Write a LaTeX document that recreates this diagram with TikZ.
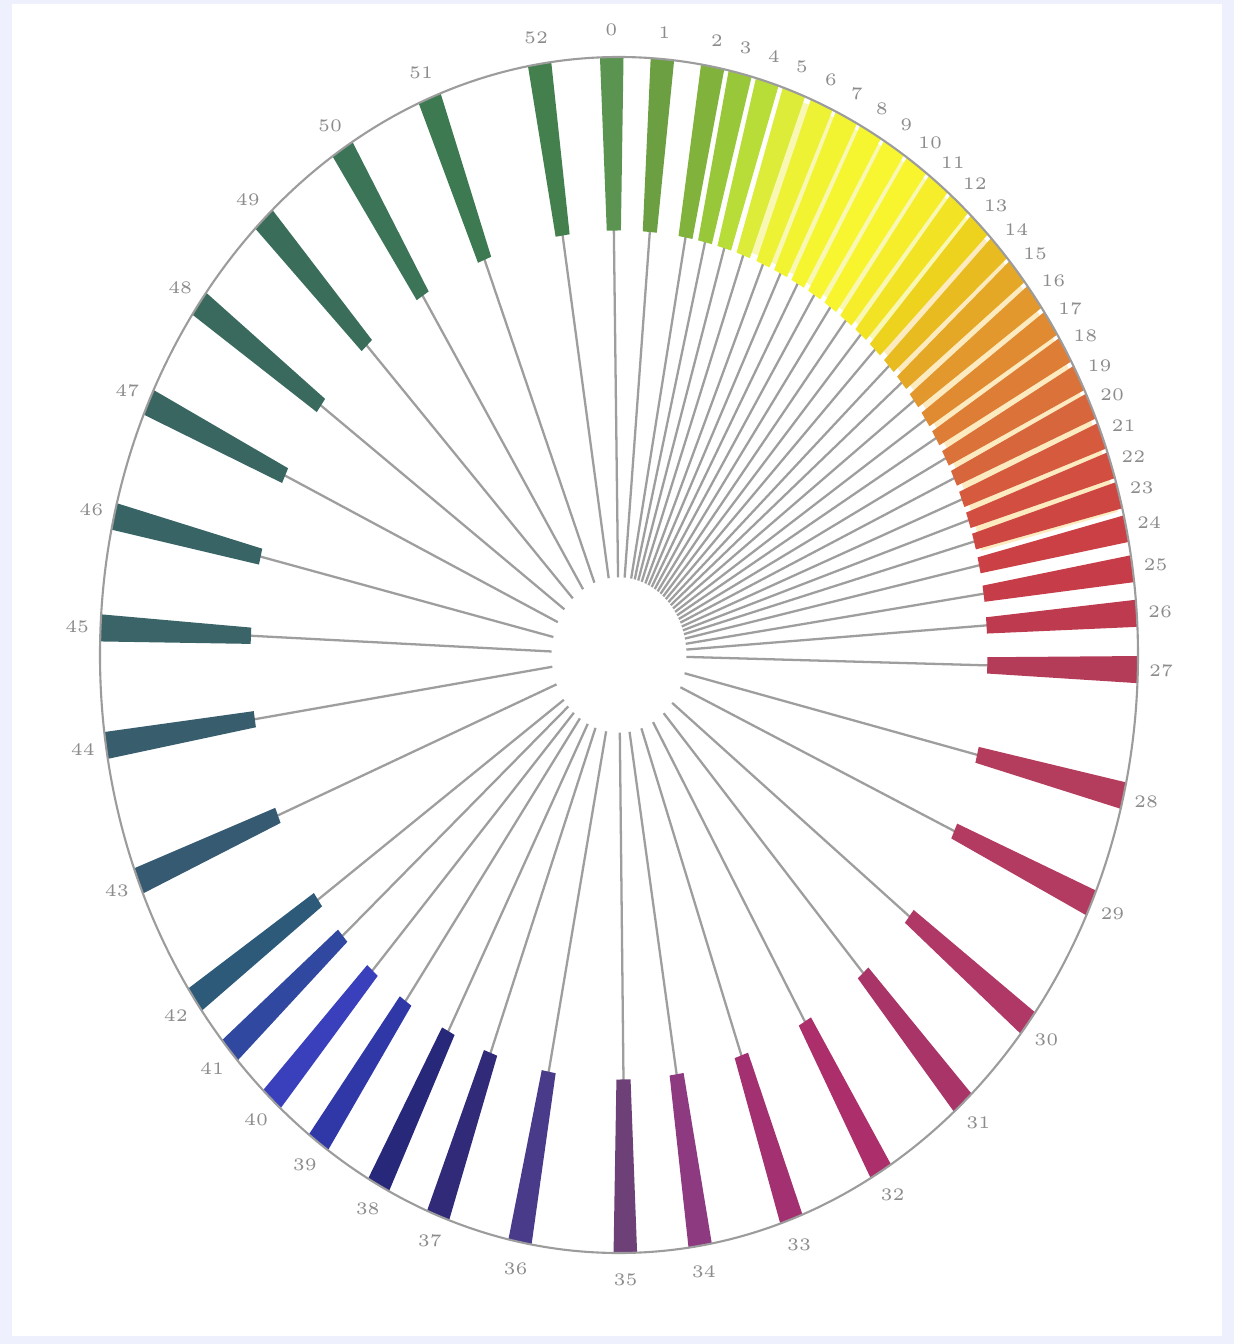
\documentclass[tikz,border=0pt]{standalone}
\usetikzlibrary{calc}
\definecolor{framebg}{HTML}{EEF0FD}
\definecolor{spokegray}{HTML}{9E9E9E}
\definecolor{rimgray}{HTML}{9C9C9C}
\definecolor{labgray}{HTML}{8C8C8C}
\definecolor{paleband}{HTML}{FCEBC0}
\definecolor{paleyellow}{HTML}{F9F7B4}

\begin{document}
\begin{tikzpicture}[x=5.19cm, y=5.98cm]
    \fill[framebg] (-6.19cm,-6.89cm) rectangle (6.15cm,6.55cm);
    \fill[white] (-6.07cm,-6.81cm) rectangle (6.03cm,6.51cm);
    \fill[paleband]
        plot[domain=14:48, samples=30] (\x:0.99) --
        plot[domain=48:14, samples=30] (\x:0.72) -- cycle;
    \fill[paleyellow]
        plot[domain=47:71, samples=30] (\x:0.99) --
        plot[domain=71:47, samples=30] (\x:0.72) -- cycle;
    \foreach \a/\c [count=\n from 0] in {90.8/5A9450, 85.2/6C9E42, 79.6/80B23C,
        76.5/98C83A, 73.4/B8DC38, 70.3/DCEC38, 67/EEF234, 64/F2F432, 61/F6F630,
        58/F8F630, 55/F8F42E, 52/F6EE2A, 49/F2E424, 46/EDD21E, 42.9/E8BC20,
        39.9/E4A826, 36.8/E2982C, 33.7/E08A32, 30.7/DE7E36, 27.6/DB723A,
        24.6/D8663C, 21.5/D65A3E, 18.5/D24E40, 15.5/CE4642, 12.2/CA4044,
        8.3/C63C48, 4/BE3A4E, -1.4/B53C58, -13.6/B43C5C, -24.5/B33A60,
        -38/B03866, -48.5/A83468, -59.7/AC2E6A, -70.6/A33070, -81/8E3A80,
        -89.3/6E4078, -101/4A3A8A, -110.4/302A78, -117.6/28287A, -125.4/3038A8,
        -132/3A40BC, -138.6/3048A0, -144.8/2E5A7A, -157.8/355A72, -171.3/385E6E,
        -182.6/3A6468, -193.4/386466, -205/3A6662, -216/3A6A5E, -226.8/3A6E5A,
        -237.8/3C7458, -248.6/3D7A52, -261.2/44804E} {
        \definecolor{barcol}{HTML}{\c}
        \draw[spokegray, line width=0.65pt] (\a:0.13) -- (\a:0.72);
        \fill[barcol] (\a-1.1:0.71) -- (\a-1.3:1) -- (\a+1.3:1) -- (\a+1.1:0.71) -- cycle;
        \node[labgray, font=\tiny, inner sep=0pt] (lab\n) at (\a:1.045) {\n};
    }
    \draw[rimgray, line width=0.6pt] (0,0) ellipse [x radius=5.19cm, y radius=5.98cm];
\end{tikzpicture}
\end{document}
